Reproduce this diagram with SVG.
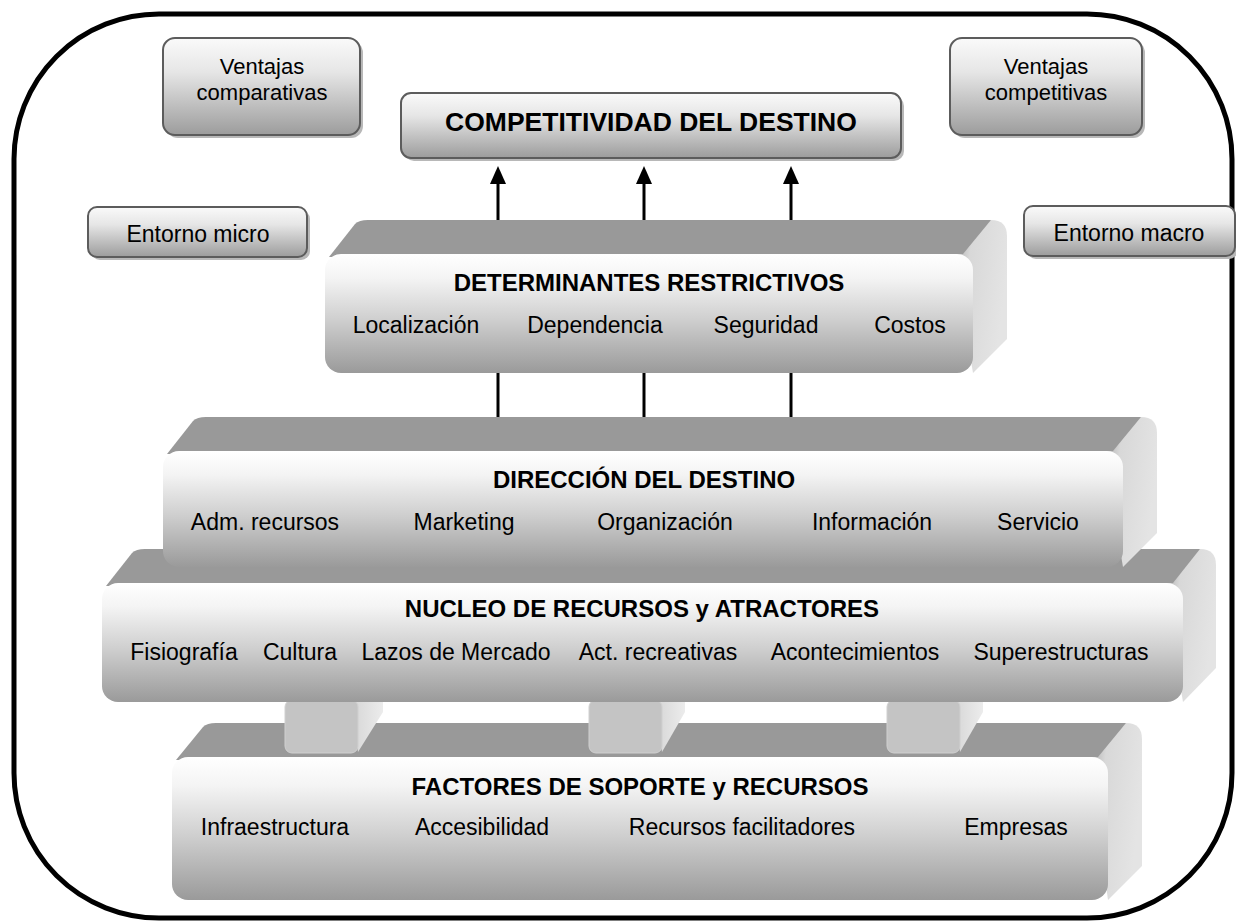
<svg xmlns="http://www.w3.org/2000/svg" width="1236" height="923" viewBox="0 0 1236 923">
<defs>
<linearGradient id="boxg" x1="0" y1="0" x2="0" y2="1">
<stop offset="0" stop-color="#fafafa"/><stop offset="0.35" stop-color="#e6e6e6"/><stop offset="1" stop-color="#9c9c9c"/>
</linearGradient>
<linearGradient id="frontg" x1="0" y1="0" x2="0" y2="1">
<stop offset="0" stop-color="#ffffff"/><stop offset="0.2" stop-color="#f4f4f4"/><stop offset="0.55" stop-color="#cfcfcf"/><stop offset="1" stop-color="#9a9a9a"/>
</linearGradient>
<linearGradient id="sideg" x1="0" y1="0" x2="1" y2="0.35">
<stop offset="0" stop-color="#a0a0a0"/><stop offset="0.35" stop-color="#d8d8d8"/><stop offset="1" stop-color="#e4e4e4"/>
</linearGradient>
<linearGradient id="pillside" x1="0" y1="0" x2="1" y2="0">
<stop offset="0" stop-color="#d6d6d6"/><stop offset="1" stop-color="#ececec"/>
</linearGradient>
<style>
.box{fill:url(#boxg);stroke:#5c5c5c;stroke-width:2}
.shadow{fill:#b8b8b8}
.front{fill:url(#frontg)}
.top{fill:#999999}
.side{fill:url(#sideg)}
.pf{fill:#c4c4c4;stroke:#d0d0d0;stroke-width:1}
.ps{fill:url(#pillside)}
.t{font-family:"Liberation Sans",Arial,sans-serif;font-size:23px;fill:#000;text-anchor:middle}
.v{font-family:"Liberation Sans",Arial,sans-serif;font-size:22px;fill:#000;text-anchor:middle}
.b{font-family:"Liberation Sans",Arial,sans-serif;font-size:24px;font-weight:bold;fill:#000;text-anchor:middle}
.conn{stroke:#000;stroke-width:3;fill:none}
</style>
</defs>
<rect width="1236" height="923" fill="#fff"/>
<rect id="frame" x="14" y="14" width="1218" height="904" rx="145" ry="145" fill="none" stroke="#000" stroke-width="5"/>

<g id="ventajas-comparativas">
<rect class="shadow" x="166" y="41" width="197" height="97" rx="12"/>
<rect class="box" x="163" y="38" width="197" height="97" rx="12"/>
<text class="v" x="262" y="74">Ventajas</text>
<text class="v" x="262" y="100">comparativas</text>
</g>
<g id="ventajas-competitivas">
<rect class="shadow" x="953" y="41" width="192" height="97" rx="12"/>
<rect class="box" x="950" y="38" width="192" height="97" rx="12"/>
<text class="v" x="1046" y="74">Ventajas</text>
<text class="v" x="1046" y="100">competitivas</text>
</g>
<g id="competitividad">
<rect class="shadow" x="404" y="96" width="500" height="65" rx="10"/>
<rect class="box" x="401" y="93" width="500" height="65" rx="10"/>
<text class="b" x="651" y="131" style="font-size:26.5px">COMPETITIVIDAD DEL DESTINO</text>
</g>
<g id="entorno-micro">
<rect class="shadow" x="91" y="210" width="219" height="50" rx="9"/>
<rect class="box" x="88" y="207" width="219" height="50" rx="9"/>
<text class="t" x="198" y="242">Entorno micro</text>
</g>
<g id="entorno-macro">
<rect class="shadow" x="1027" y="209" width="211" height="50" rx="9"/>
<rect class="box" x="1024" y="206" width="211" height="50" rx="9"/>
<text class="t" x="1129" y="241">Entorno macro</text>
</g>

<g id="factores">
<path class="side" d="M1088,757 L1126,723 Q1142,723 1142,739 L1142,866 L1108,900 Z"/>
<path class="top" d="M176,760 L203,727 Q207,723 216,723 L1126,723 L1098,757 Z"/>
<rect class="front" x="172" y="757" width="936" height="143" rx="16"/>
<text class="b" x="640" y="795">FACTORES DE SOPORTE y RECURSOS</text>
<text class="t" x="275" y="835">Infraestructura</text>
<text class="t" x="482" y="835">Accesibilidad</text>
<text class="t" x="742" y="835">Recursos facilitadores</text>
<text class="t" x="1016" y="835">Empresas</text>
</g>

<g id="pilares">
<path class="ps" d="M352,702 L383,702 L383,712 L358,752 Z"/>
<rect class="pf" x="285" y="700" width="73" height="53" rx="7"/>
<path class="ps" d="M656,702 L685,702 L685,712 L662,752 Z"/>
<rect class="pf" x="589" y="700" width="73" height="53" rx="7"/>
<path class="ps" d="M954,702 L983,702 L983,712 L960,752 Z"/>
<rect class="pf" x="887" y="700" width="73" height="53" rx="7"/>
</g>

<g id="nucleo">
<path class="side" d="M1163,583 L1200,549 Q1216,549 1216,565 L1216,668 L1183,702 Z"/>
<path class="top" d="M106,586 L132,553 Q136,549 145,549 L1200,549 L1173,583 Z"/>
<rect class="front" x="102" y="583" width="1081" height="119" rx="16"/>
<text class="b" x="642" y="617">NUCLEO DE RECURSOS y ATRACTORES</text>
<text class="t" x="184" y="660">Fisiografía</text>
<text class="t" x="300" y="660">Cultura</text>
<text class="t" x="456" y="660">Lazos de Mercado</text>
<text class="t" x="658" y="660">Act. recreativas</text>
<text class="t" x="855" y="660">Acontecimientos</text>
<text class="t" x="1061" y="660">Superestructuras</text>
</g>

<g id="direccion">
<path class="side" d="M1103,451 L1141,417 Q1157,417 1157,433 L1157,533 L1123,567 Z"/>
<path class="top" d="M167,454 L193,421 Q197,417 206,417 L1141,417 L1113,451 Z"/>
<rect class="front" x="163" y="451" width="960" height="116" rx="16"/>
<text class="b" x="644" y="488">DIRECCIÓN DEL DESTINO</text>
<text class="t" x="265" y="530">Adm. recursos</text>
<text class="t" x="464" y="530">Marketing</text>
<text class="t" x="665" y="530">Organización</text>
<text class="t" x="872" y="530">Información</text>
<text class="t" x="1038" y="530">Servicio</text>
</g>

<g id="determinantes">
<path class="side" d="M953,254 L991,220 Q1007,220 1007,236 L1007,339 L973,373 Z"/>
<path class="top" d="M329,257 L355,224 Q359,220 368,220 L991,220 L963,254 Z"/>
<rect class="front" x="325" y="254" width="648" height="119" rx="16"/>
<text class="b" x="649" y="291">DETERMINANTES RESTRICTIVOS</text>
<text class="t" x="416" y="333">Localización</text>
<text class="t" x="595" y="333">Dependencia</text>
<text class="t" x="766" y="333">Seguridad</text>
<text class="t" x="910" y="333">Costos</text>
</g>

<g id="connectors">
<line class="conn" x1="498" y1="220" x2="498" y2="182"/>
<line class="conn" x1="644" y1="220" x2="644" y2="182"/>
<line class="conn" x1="791" y1="220" x2="791" y2="182"/>
<path d="M490,184 L498,166 L506,184 Z" fill="#000"/>
<path d="M636,184 L644,166 L652,184 Z" fill="#000"/>
<path d="M783,184 L791,166 L799,184 Z" fill="#000"/>
<line class="conn" x1="498" y1="373" x2="498" y2="417"/>
<line class="conn" x1="644" y1="373" x2="644" y2="417"/>
<line class="conn" x1="791" y1="373" x2="791" y2="417"/>
</g>
</svg>
